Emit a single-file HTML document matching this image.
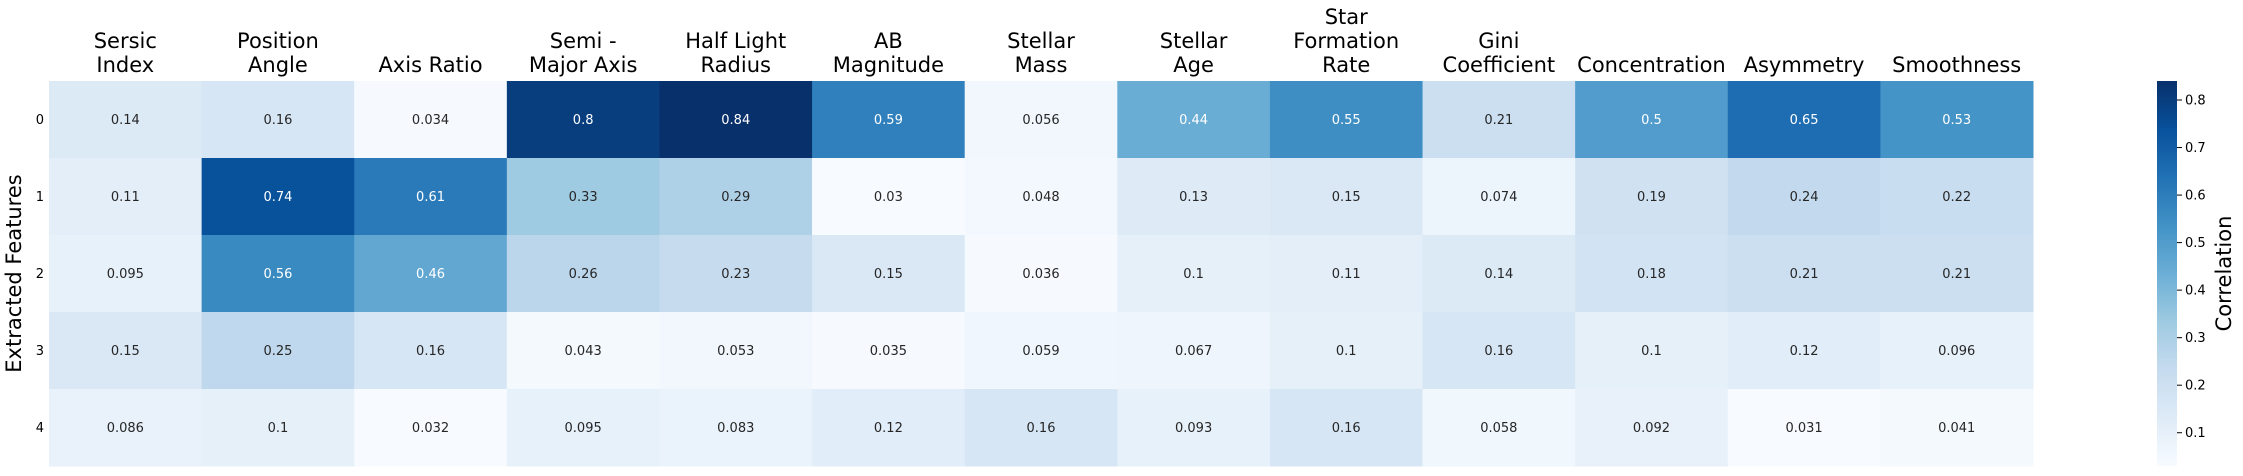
<!DOCTYPE html>
<html><head><meta charset="utf-8"><style>
body{margin:0;background:#fff;}
svg{display:block;font-family:"DejaVu Sans","Liberation Sans",sans-serif;}
</style></head><body>
<svg id="chart" width="2243" height="476"></svg>
<script>
const colLabels=[["Sersic","Index"],["Position","Angle"],["Axis Ratio"],["Semi -","Major Axis"],["Half Light","Radius"],["AB","Magnitude"],["Stellar","Mass"],["Stellar","Age"],["Star","Formation","Rate"],["Gini","Coefficient"],["Concentration"],["Asymmetry"],["Smoothness"]];
const rowLabels=["0","1","2","3","4"];
const row0=[0.14,0.16,0.034,0.8,0.84,0.59,0.056,0.44,0.55,0.21,0.5,0.65,0.53];
const row1=[0.11,0.74,0.61,0.33,0.29,0.03,0.048,0.13,0.15,0.074,0.19,0.24,0.22];
const row2=[0.095,0.56,0.46,0.26,0.23,0.15,0.036,0.1,0.11,0.14,0.18,0.21,0.21];
const row3=[0.15,0.25,0.16,0.043,0.053,0.035,0.059,0.067,0.1,0.16,0.1,0.12,0.096];
const row4=[0.086,0.1,0.032,0.095,0.083,0.12,0.16,0.093,0.16,0.058,0.092,0.031,0.041];
const cbTicks=[0.1,0.2,0.3,0.4,0.5,0.6,0.7,0.8];
const vmin=0.03,vmax=0.84;
const rows=[row0,row1,row2,row3,row4];
const NS="http://www.w3.org/2000/svg";
const svg=document.getElementById('chart');
const X0=49,X1=2033,Y0=81,Y1=466;
const cw=(X1-X0)/colLabels.length, rh=(Y1-Y0)/rowLabels.length;
const stops=["#f7fbff","#deebf7","#c6dbef","#9ecae1","#6baed6","#4292c6","#2171b5","#08519c","#08306b"].map(h=>[parseInt(h.slice(1,3),16),parseInt(h.slice(3,5),16),parseInt(h.slice(5,7),16)]);
function cmap(v){let t=Math.max(0,Math.min(1,(v-vmin)/(vmax-vmin)))*(stops.length-1);let i=Math.min(Math.floor(t),stops.length-2),f=t-i;const c=stops[i].map((a,k)=>Math.round(a+(stops[i+1][k]-a)*f));return c;}
function lum(c){const l=c.map(x=>{x/=255;return x<=0.03928?x/12.92:Math.pow((x+0.055)/1.055,2.4)});return 0.2126*l[0]+0.7152*l[1]+0.0722*l[2];}
function el(t,a,txt){const e=document.createElementNS(NS,t);for(const k in a)e.setAttribute(k,a[k]);if(txt!==undefined)e.textContent=txt;svg.appendChild(e);return e;}
function xs(j){return X0+j*cw;}
function ys(i){return Y0+i*rh;}
rows.forEach((r,i)=>r.forEach((v,j)=>{
  const c=cmap(v);
  const rect=el('rect',{x:xs(j),y:ys(i),width:cw+0.5,height:rh+0.5,fill:`rgb(${c})`});
  
  
  const t=el('text',{x:xs(j)+cw/2,y:ys(i)+rh/2+4.5,'text-anchor':'middle','font-size':13,fill:lum(c)<0.408?'#ffffff':'#262626'},String(v));
  
  
}));
colLabels.forEach((lines,j)=>{
  lines.forEach((s,k)=>{
    const t=el('text',{x:xs(j)+cw/2,y:72-(lines.length-1-k)*24,'text-anchor':'middle','font-size':21,fill:'#000'},s);
    
    
  });
});
rowLabels.forEach((s,i)=>{
  const t=el('text',{x:44,y:ys(i)+rh/2+4.5,'text-anchor':'end','font-size':13,fill:'#000'},s);
  
  
});
const yt=el('text',{x:0,y:0,transform:`translate(21,${(Y0+Y1)/2}) rotate(-90)`,'text-anchor':'middle','font-size':21,fill:'#000'},'Extracted Features');


// colorbar
const CX=2157,CW=20;
const defs=el('defs',{});
const g=document.createElementNS(NS,'linearGradient');g.setAttribute('id','cbg');g.setAttribute('x1','0');g.setAttribute('y1','1');g.setAttribute('x2','0');g.setAttribute('y2','0');defs.appendChild(g);
stops.forEach((c,k)=>{const s=document.createElementNS(NS,'stop');s.setAttribute('offset',k/(stops.length-1));s.setAttribute('stop-color',`rgb(${c})`);g.appendChild(s);});
const cb=el('rect',{x:CX,y:Y0,width:CW,height:Y1-Y0,fill:'url(#cbg)'});


function cy(v){return Y1-(v-vmin)/(vmax-vmin)*(Y1-Y0);}
cbTicks.forEach(v=>{
  const ln=el('line',{x1:CX+CW,x2:CX+CW+5,y1:cy(v),y2:cy(v),stroke:'#000','stroke-width':1});
  
  
  const t=el('text',{x:CX+CW+8,y:cy(v)+4.5,'font-size':13,fill:'#000'},v.toFixed(1));
  
  
});
const ct=el('text',{x:0,y:0,transform:`translate(2231,${(Y0+Y1)/2}) rotate(-90)`,'text-anchor':'middle','font-size':21,fill:'#000'},'Correlation');


</script>
</body></html>
